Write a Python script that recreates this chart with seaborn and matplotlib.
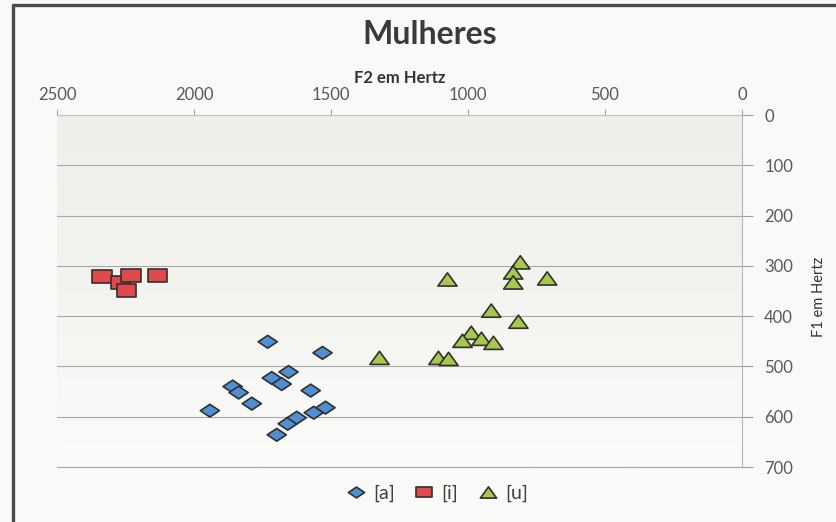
import numpy as np
import pandas as pd
import matplotlib
matplotlib.use("Agg")
import matplotlib.pyplot as plt
import seaborn as sns
from matplotlib.path import Path
from matplotlib.colors import LinearSegmentedColormap
from matplotlib.lines import Line2D

# F2 / F1 values (Hz)
a_f2 = [1731, 1531, 1655, 1716, 1680, 1859, 1837, 1789, 1574, 1942, 1658, 1625, 1563, 1520, 1698]
a_f1 = [451, 473, 511, 523, 535, 540, 552, 574, 548, 588, 614, 602, 592, 582, 636]
i_f2 = [2336, 2267, 2245, 2230, 2132]
i_f1 = [321, 333, 349, 319, 319]
u_f2 = [809, 835, 835, 1075, 711, 915, 816, 988, 1020, 951, 907, 1323, 1108, 1071]
u_f1 = [293, 313, 333, 327, 325, 389, 411, 433, 449, 445, 453, 483, 483, 485]

vowels = ["[a]", "[i]", "[u]"]
x_ticks = [2500, 2000, 1500, 1000, 500, 0]
y_ticks = [0, 100, 200, 300, 400, 500, 600, 700]

df = pd.DataFrame({
    "F2": a_f2 + i_f2 + u_f2,
    "F1": a_f1 + i_f1 + u_f1,
    "vogal": ["[a]"] * len(a_f2) + ["[i]"] * len(i_f2) + ["[u]"] * len(u_f2),
})

sns.set_style("white")
plt.rcParams["font.family"] = ["Lato", "DejaVu Sans"]

# the scan is stretched sideways, so the markers are wider than tall
diamond = Path([(0, 1), (1.5, 0), (0, -1), (-1.5, 0), (0, 1)],
               [Path.MOVETO, Path.LINETO, Path.LINETO, Path.LINETO, Path.CLOSEPOLY])
square = Path([(-1.5, -1), (1.5, -1), (1.5, 1), (-1.5, 1), (-1.5, -1)],
              [Path.MOVETO, Path.LINETO, Path.LINETO, Path.LINETO, Path.CLOSEPOLY])
triangle = Path([(0, 1), (1.45, -1), (-1.45, -1), (0, 1)],
                [Path.MOVETO, Path.LINETO, Path.LINETO, Path.CLOSEPOLY])

colors = {"[a]": "#4f8fd2", "[i]": "#e04a4a", "[u]": "#a6c84b"}
markers = {"[a]": diamond, "[i]": square, "[u]": triangle}

fig = plt.figure(figsize=(8.37, 5.22), dpi=100, facecolor="#f9f9f7")
ax = fig.add_axes([57 / 837, 1 - 467 / 522, 685 / 837, 352 / 522])

# gradient fill of the plot area
grad = np.linspace(0, 1, 256).reshape(-1, 1)
cmap = LinearSegmentedColormap.from_list("bg", ["#eeeeeb", "#f3f3f0", "#fbfbf9"])
ax.imshow(grad, cmap=cmap, extent=[2500, 0, 700, 0], aspect="auto", zorder=0)

sns.scatterplot(data=df, x="F2", y="F1", hue="vogal", style="vogal",
                palette=colors, markers=markers, hue_order=vowels, style_order=vowels,
                s=190, edgecolor="#303030", linewidth=1.2, ax=ax, zorder=3)

ax.set_xlim(2500, 0)
ax.set_ylim(700, 0)
ax.set_xticks(x_ticks)
ax.set_yticks(y_ticks)
ax.xaxis.tick_top()
ax.yaxis.tick_right()
ax.tick_params(axis="x", length=4, width=0.8, color="#a0a0a0", pad=5,
               labelsize=12, labelcolor="#595959")
ax.tick_params(axis="y", length=8, width=0.8, color="#a0a0a0", pad=8,
               labelsize=12, labelcolor="#595959")
ax.grid(axis="y", color="#a8a8a8", linewidth=0.8, zorder=1)
ax.spines["left"].set_visible(False)
ax.spines["bottom"].set_color("#a8a8a8")
ax.spines["bottom"].set_linewidth(0.8)
ax.spines["top"].set_color("#c4c4c4")
ax.spines["top"].set_linewidth(0.8)
ax.spines["right"].set_color("#b4b4b4")
ax.spines["right"].set_linewidth(0.8)

ax.set_xlabel("F2 em Hertz", fontsize=12, fontweight="bold", color="#333333", va="center")
ax.xaxis.set_label_coords(0.5, 1 + (115 - 78) / 352)
ax.set_ylabel("F1 em Hertz", fontsize=10.5, color="#333333", rotation=90, va="center")
ax.yaxis.set_label_position("right")
ax.yaxis.set_label_coords((812 - 57) / 685, 0.483)

fig.text(430 / 837, 1 - 35 / 522, "Mulheres", fontsize=23, fontweight="bold",
         color="#3a3a3a", ha="center", va="center")

sns.move_legend(ax, "center", bbox_to_anchor=(437 / 837, 1 - 493 / 522),
                bbox_transform=fig.transFigure, ncol=3, frameon=False, title=None,
                markerscale=0.85, fontsize=14, handlelength=1.0, handletextpad=0.4,
                columnspacing=1.0)
for t in ax.get_legend().get_texts():
    t.set_color("#404040")

# scanned chart border
fig.add_artist(Line2D([13 / 837, 1], [1 - 5 / 522, 1 - 5 / 522], color="#4a4a4a",
                      linewidth=2.4, transform=fig.transFigure))
fig.add_artist(Line2D([13 / 837, 13 / 837], [0, 1 - 5 / 522], color="#4a4a4a",
                      linewidth=2.4, transform=fig.transFigure))

fig.savefig("out.png", dpi=100, facecolor=fig.get_facecolor())
